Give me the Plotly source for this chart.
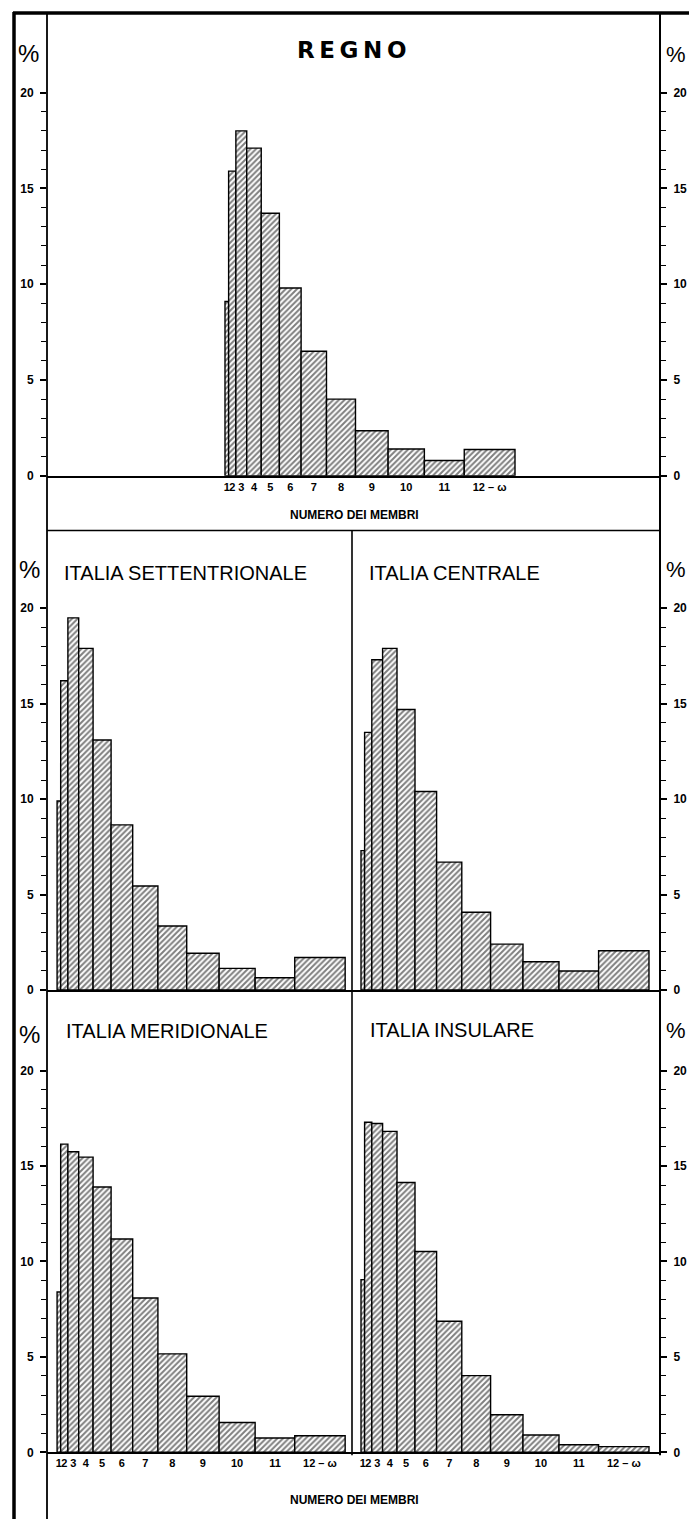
import plotly.graph_objects as go
import numpy as np

# ---------------- data ----------------
categories = ["1", "2", "3", "4", "5", "6", "7", "8", "9", "10", "11", "12 – ω"]
# width of each class on the x scale (number of members; last open class estimated)
class_widths = [1, 2, 3, 4, 5, 6, 7, 8, 9, 10, 11, 14]

regno = [9.1, 15.9, 18.0, 17.1, 13.7, 9.8, 6.5, 4.0, 2.35, 1.4, 0.8, 1.37]
settentrionale = [9.9, 16.2, 19.5, 17.9, 13.1, 8.65, 5.45, 3.35, 1.92, 1.13, 0.64, 1.7]
centrale = [7.3, 13.5, 17.3, 17.9, 14.7, 10.4, 6.7, 4.07, 2.4, 1.48, 0.99, 2.05]
meridionale = [8.4, 16.15, 15.75, 15.47, 13.9, 11.18, 8.09, 5.16, 2.94, 1.56, 0.75, 0.87]
insulare = [9.05, 17.3, 17.23, 16.82, 14.14, 10.52, 6.87, 4.02, 1.97, 0.91, 0.40, 0.30]

y_major = [0, 5, 10, 15, 20]
y_minor = list(range(0, 21))

# ---------------- geometry ----------------
W, H = 689, 1526
def fx(p):
    return p / W
def fy(p):
    return 1 - p / H

edges = np.concatenate([[0], np.cumsum(class_widths)])
centers = (edges[:-1] + edges[1:]) / 2

FONT = "Liberation Sans"

fig = go.Figure()

bar_style = dict(
    color="white",
    pattern=dict(shape="/", fgcolor="black", bgcolor="white", size=4, solidity=0.5),
    line=dict(color="black", width=1.4),
)

panels = [
    (regno, "x", "y"),
    (settentrionale, "x2", "y2"),
    (centrale, "x3", "y3"),
    (meridionale, "x4", "y4"),
    (insulare, "x5", "y5"),
]
for vals, xa, ya in panels:
    fig.add_trace(go.Bar(
        x=centers, y=vals, width=class_widths, marker=bar_style,
        xaxis=xa, yaxis=ya, showlegend=False, hoverinfo="skip",
    ))
# helper trace for the right-hand axis of the top panel
fig.add_trace(go.Scatter(x=[None], y=[None], xaxis="x", yaxis="y6",
                         showlegend=False, hoverinfo="skip"))

def xaxis(domain, rng, labels):
    return dict(
        domain=domain, range=rng, showgrid=False, zeroline=False,
        showline=True, linecolor="black", linewidth=1.6,
        tickmode="array", tickvals=list(centers), ticktext=categories,
        ticks="", tickangle=0, showticklabels=labels,
        tickfont=dict(family=FONT, size=11, color="black", weight="bold"),
        fixedrange=True,
    )

def yaxis(domain, rng, side, anchor, overlaying=None):
    d = dict(
        domain=domain, range=rng, side=side, anchor=anchor,
        showgrid=False, zeroline=False, showline=False,
        tickmode="array", tickvals=y_major, ticks="outside",
        ticklen=6, tickwidth=1.5, tickcolor="black",
        minor=dict(tickmode="array", tickvals=y_minor, ticks="outside",
                   ticklen=5, tickwidth=1.3, tickcolor="black"),
        tickfont=dict(family=FONT, size=12, color="black", weight="bold"),
        ticklabelstandoff=4,
        fixedrange=True,
    )
    if overlaying:
        d["overlaying"] = overlaying
    return d

top_x = [fx(47), fx(660)]
left_x = [fx(47), fx(352)]
right_x = [fx(352), fx(660)]
top_y = [fy(478), fy(13)]
mid_y = [fy(994.5), fy(533)]
bot_y = [fy(1459), fy(994.5)]

top_yr = [0, (478 - 13) / 19.25]
mid_yr = [0, (994.5 - 533) / 19.17]
bot_yr = [0, (1459 - 994.5) / 19.17]

left_xr = [-2.8, 81.9]
right_xr = [-2.5, 83.06]
top_xr = [-49.1, 120.0]

fig.update_layout(
    width=W, height=H, margin=dict(l=0, r=0, t=0, b=0),
    paper_bgcolor="white", plot_bgcolor="rgba(0,0,0,0)",
    xaxis=xaxis(top_x, top_xr, True),
    yaxis=yaxis(top_y, top_yr, "left", "x"),
    yaxis6=yaxis(top_y, top_yr, "right", "x", overlaying="y"),
    xaxis2=xaxis(left_x, left_xr, False),
    yaxis2=yaxis(mid_y, mid_yr, "left", "x2"),
    xaxis3=xaxis(right_x, right_xr, False),
    yaxis3=yaxis(mid_y, mid_yr, "right", "x3"),
    xaxis4=xaxis(left_x, left_xr, True),
    yaxis4=yaxis(bot_y, bot_yr, "left", "x4"),
    xaxis5=xaxis(right_x, right_xr, True),
    yaxis5=yaxis(bot_y, bot_yr, "right", "x5"),
)
fig.update_layout(xaxis=dict(anchor="y"), xaxis2=dict(anchor="y2"),
                  xaxis3=dict(anchor="y3"), xaxis4=dict(anchor="y4"),
                  xaxis5=dict(anchor="y5"))

# ---------------- frame lines ----------------
def line(x0, y0, x1, y1, w=1.6):
    fig.add_shape(type="line", xref="paper", yref="paper",
                  x0=fx(x0), y0=fy(y0), x1=fx(x1), y1=fy(y1),
                  line=dict(color="black", width=w))

line(14, 12, 14, 1526, 3.5)     # outer left frame
line(13, 13, 689, 13, 3.5)      # outer top frame
line(47, 13, 47, 1526, 1.8)     # left axis line
line(660, 13, 660, 1462, 2.0)   # right axis line
line(47, 533, 660, 533, 1.6)    # separator under top panel
line(352, 533, 352, 1462, 1.6)  # central divider

# ---------------- texts ----------------
def text(s, x, y, size, xanchor="center", bold=False, family=FONT):
    fig.add_annotation(text=s, xref="paper", yref="paper", x=fx(x), y=fy(y),
                       xanchor=xanchor, yanchor="middle", showarrow=False,
                       font=dict(family=family, size=size, color="black",
                                 weight="bold" if bold else "normal"))

text("R\u2009E\u2009G\u2009N\u2009O", 351, 50, 23, bold=True, family="DejaVu Sans")
text("ITALIA SETTENTRIONALE", 62, 576, 20, xanchor="left")
text("ITALIA CENTRALE", 367, 576, 20, xanchor="left")
text("ITALIA MERIDIONALE", 64, 1036, 20, xanchor="left")
text("ITALIA INSULARE", 368, 1035, 20, xanchor="left")

text("NUMERO DEI MEMBRI", 354, 517, 12, bold=True)
text("NUMERO DEI MEMBRI", 354, 1507, 12, bold=True)

for (px_, py_) in [(28, 54), (29, 572), (29, 1039)]:
    text("%", px_, py_, 24)
for (px_, py_) in [(688, 55), (688, 572), (688, 1035)]:
    text("%", px_, py_, 22, xanchor="right")

fig.write_html("out.html", config={"displayModeBar": False},
               post_script="document.body.style.margin='0px';")
